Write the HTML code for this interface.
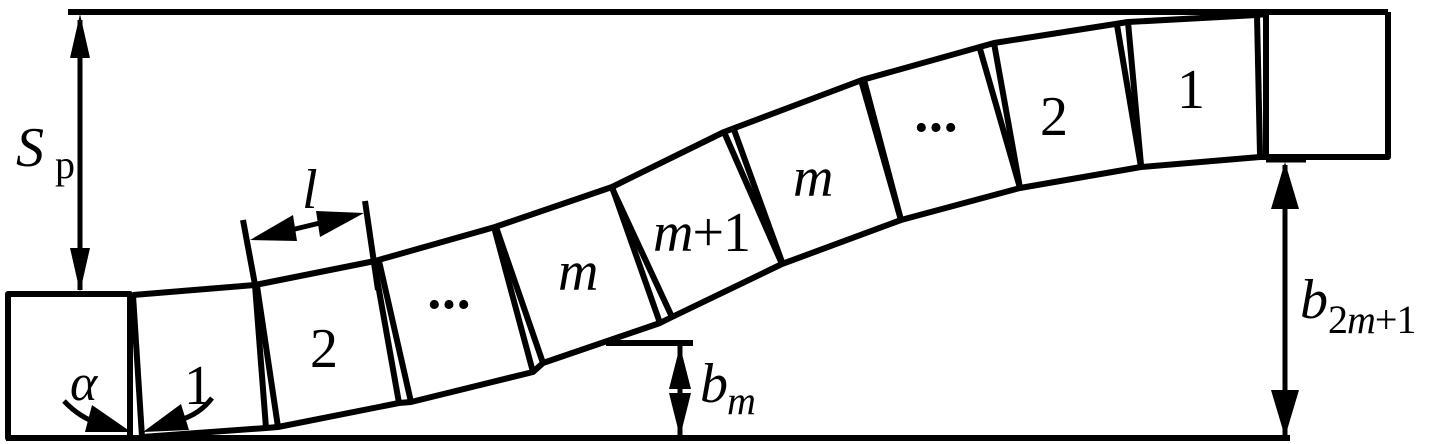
<!DOCTYPE html>
<html><head><meta charset="utf-8"><style>
html,body{margin:0;padding:0;background:#fff;}
svg{display:block}
text{font-family:"Liberation Serif","DejaVu Serif",serif;fill:#000}
</style></head><body>
<svg width="1436" height="444" viewBox="0 0 1436 444" xmlns="http://www.w3.org/2000/svg">
<g stroke="#000" stroke-width="6" fill="none" stroke-linejoin="round">
<line x1="68" y1="12" x2="1388" y2="12"/>
<line x1="6" y1="438" x2="1290" y2="438"/>
<rect x="8" y="294" width="122" height="144"/>
<polyline points="1388,12 1388,157 1266,157 1266,12"/>
<line x1="1266" y1="159" x2="1306" y2="159" stroke-width="7"/>
<polyline points="133,295 255,285 375,261 495,227 612,187 724,132 862,80 994,43 1128,22 1257,15 1266,14"/>
<polyline points="142,437 266,428 278,427 399,403 411,402 533,372 543,363 660,323 672,317 782,264 901,220 1020,188 1141,167 1260,157 1266,157"/>
<polyline points="133,295 142,437"/>
<polyline points="255,285 266,428"/>
<polyline points="257,286 278,427"/>
<polyline points="374,262 399,403"/>
<polyline points="379,261 411,402"/>
<polyline points="494,227 533,372"/>
<polyline points="496,227 543,363"/>
<polyline points="612,187 660,323"/>
<polyline points="612,188 672,317"/>
<polyline points="724,132 782,264"/>
<polyline points="733,127 782,262"/>
<polyline points="861,80 901,220"/>
<polyline points="864,80 901,220"/>
<polyline points="980,49 1020,188"/>
<polyline points="994,43 1020,188"/>
<polyline points="1117,25 1141,167"/>
<polyline points="1128,22 1141,165"/>
<polyline points="1257,15 1260,155"/>
<line x1="243" y1="220" x2="256" y2="290"/>
<line x1="365" y1="201" x2="378" y2="290"/>
<line x1="606" y1="343" x2="693" y2="343"/>
</g>
<g stroke="#000" stroke-width="5" fill="none">
<line x1="80" y1="20" x2="80" y2="290"/>
<line x1="1285" y1="165" x2="1285" y2="435"/>
<line x1="680" y1="346" x2="680" y2="435"/>
<line x1="270" y1="235" x2="345" y2="217"/>
<path d="M64,401 Q80,418 100,424"/>
<path d="M212,398 Q200,414 180,420"/>
</g>
<g fill="#000">
<polygon points="80,14 70,58 90,58"/>
<polygon points="80,292 70,248 90,248"/>
<polygon points="1285,162 1271,209 1299,209"/>
<polygon points="1285,437 1271,390 1299,390"/>
<polygon points="680,346 669,389 691,389"/>
<polygon points="680,437 669,393 691,393"/>
<polygon points="250,240 293,215 297,241"/>
<polygon points="364,213 316,211 320,237"/>
<polygon points="131,432 92,405 85,432"/>
<polygon points="143,432 181,404 189,430"/>
</g>
<g font-family="Liberation Serif, DejaVu Serif, serif" font-size="56">
<text x="16" y="166" font-style="italic">S</text>
<text x="55" y="178" font-size="40">p</text>
<text x="302" y="208" font-style="italic">l</text>
<text x="70" y="400" font-style="italic" font-size="52">α</text>
<text x="184" y="404">1</text>
<text x="310" y="367">2</text>
<text x="425" y="323" font-weight="bold" letter-spacing="-4">···</text>
<text x="558" y="290" font-style="italic">m</text>
<text x="653" y="251" letter-spacing="-1"><tspan font-style="italic">m</tspan>+1</text>
<text x="793" y="196" font-style="italic">m</text>
<text x="912" y="146" font-weight="bold" letter-spacing="-4">···</text>
<text x="1040" y="135">2</text>
<text x="1177" y="108">1</text>
<text x="700" y="402" font-style="italic">b</text>
<text x="727" y="414" font-size="40" font-style="italic">m</text>
<text x="1300" y="318" font-style="italic">b</text>
<text x="1328" y="333" font-size="40" letter-spacing="-1">2<tspan font-style="italic">m</tspan>+1</text>
</g>
</svg>
</body></html>
